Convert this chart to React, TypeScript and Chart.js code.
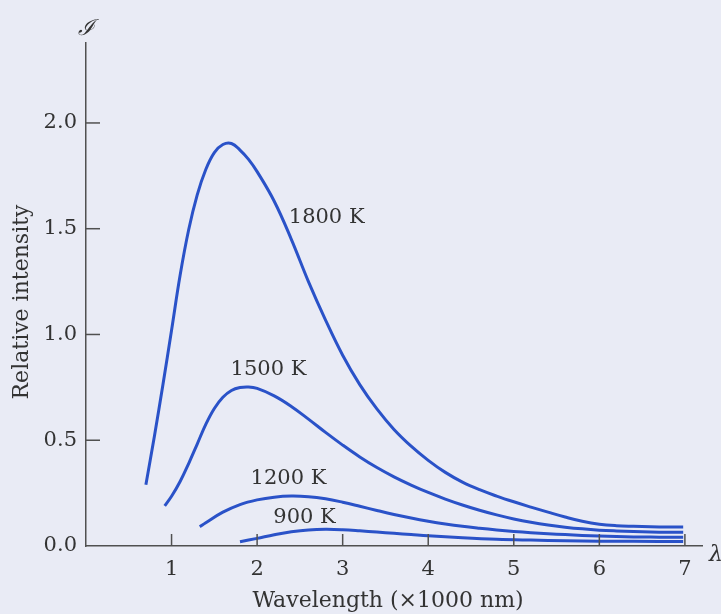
import React, { useEffect, useRef } from "react";
import { Chart, registerables } from "chart.js";

Chart.register(...registerables);

// Wavelength (×1000 nm) and relative intensity
const wl1800 = [0.70, 0.80, 0.90, 1.00, 1.10, 1.20, 1.30, 1.40, 1.50, 1.60, 1.70, 1.80, 1.90, 2.00, 2.20, 2.40, 2.60, 2.80, 3.00, 3.20, 3.40, 3.60, 3.80, 4.00, 4.20, 4.40, 4.60, 4.80, 5.00, 5.20, 5.40, 5.60, 5.80, 6.00, 6.20, 6.40, 6.60, 6.80, 6.98];
const int1800 = [0.29, 0.52, 0.765, 1.02, 1.28, 1.495, 1.66, 1.78, 1.86, 1.898, 1.903, 1.872, 1.828, 1.77, 1.63, 1.45, 1.25, 1.068, 0.902, 0.763, 0.648, 0.551, 0.472, 0.405, 0.348, 0.302, 0.266, 0.236, 0.209, 0.184, 0.16, 0.137, 0.117, 0.103, 0.096, 0.093, 0.091, 0.09, 0.09];

const wl1500 = [0.92, 1.00, 1.10, 1.20, 1.30, 1.40, 1.50, 1.60, 1.70, 1.80, 1.90, 2.00, 2.20, 2.40, 2.60, 2.80, 3.00, 3.20, 3.40, 3.60, 3.80, 4.00, 4.20, 4.40, 4.60, 4.80, 5.00, 5.20, 5.40, 5.60, 5.80, 6.00, 6.20, 6.40, 6.60, 6.80, 6.98];
const int1500 = [0.19, 0.235, 0.305, 0.39, 0.482, 0.575, 0.65, 0.703, 0.735, 0.749, 0.752, 0.745, 0.71, 0.66, 0.60, 0.537, 0.477, 0.421, 0.371, 0.327, 0.288, 0.253, 0.222, 0.194, 0.169, 0.147, 0.128, 0.112, 0.099, 0.089, 0.081, 0.075, 0.071, 0.068, 0.066, 0.065, 0.065];

const wl1200 = [1.33, 1.40, 1.60, 1.80, 2.00, 2.20, 2.40, 2.60, 2.80, 3.00, 3.20, 3.40, 3.60, 3.80, 4.00, 4.20, 4.40, 4.60, 4.80, 5.00, 5.20, 5.40, 5.60, 5.80, 6.00, 6.20, 6.40, 6.60, 6.80, 6.98];
const int1200 = [0.091, 0.11, 0.16, 0.196, 0.218, 0.231, 0.236, 0.233, 0.223, 0.207, 0.188, 0.168, 0.149, 0.132, 0.117, 0.104, 0.093, 0.084, 0.076, 0.069, 0.063, 0.058, 0.054, 0.05, 0.047, 0.045, 0.043, 0.042, 0.041, 0.041];

const wl900 = [1.80, 2.00, 2.20, 2.40, 2.60, 2.80, 3.00, 3.20, 3.40, 3.60, 3.80, 4.00, 4.40, 4.80, 5.20, 5.60, 6.00, 6.40, 6.98];
const int900 = [0.02, 0.036, 0.053, 0.067, 0.076, 0.079, 0.077, 0.072, 0.066, 0.06, 0.054, 0.048, 0.039, 0.032, 0.028, 0.025, 0.023, 0.022, 0.021];

const seriesLabels = ["1800 K", "1500 K", "1200 K", "900 K"];
// label anchors (left x in wavelength, baseline in intensity)
const labelAnchorX = [2.37, 1.69, 1.924, 2.19];
const labelAnchorY = [1.527, 0.809, 0.293, 0.109];

const xTickValues = [1, 2, 3, 4, 5, 6, 7];
const yTickValues = [0, 0.5, 1.0, 1.5, 2.0];

const xTitle = "Wavelength (×1000 nm)";
const yTitle = "Relative intensity";
const yMarker = "ℐ";
const xMarker = "λ";

const BLUE = "#2a52c8";
const INK = "#333333";
const AXIS = "#505050";
const BG = "#e9ebf5";
const FONT = "'DejaVu Serif', serif";

function pts(xs: number[], ys: number[]) {
  return xs.map((x, i) => ({ x, y: ys[i] }));
}

export default function App() {
  const ref = useRef<HTMLCanvasElement | null>(null);

  useEffect(() => {
    document.body.style.margin = "0";
    document.body.style.background = BG;
    const canvas = ref.current;
    if (!canvas) return;

    const decor = {
      id: "decor",
      beforeDraw(chart: any) {
        const ctx = chart.ctx;
        ctx.save();
        ctx.fillStyle = BG;
        ctx.fillRect(0, 0, chart.width, chart.height);
        ctx.restore();
      },
      afterDraw(chart: any) {
        const ctx = chart.ctx;
        const xs = chart.scales.x;
        const ys = chart.scales.y;
        const area = chart.chartArea;
        ctx.save();
        // inside tick marks
        ctx.strokeStyle = AXIS;
        ctx.lineWidth = 1.5;
        yTickValues.forEach((v) => {
          if (v === 0) return;
          const py = ys.getPixelForValue(v);
          ctx.beginPath();
          ctx.moveTo(area.left, py);
          ctx.lineTo(area.left + 14, py);
          ctx.stroke();
        });
        xTickValues.forEach((v) => {
          const px = xs.getPixelForValue(v);
          ctx.beginPath();
          ctx.moveTo(px, area.bottom);
          ctx.lineTo(px, area.bottom - 12);
          ctx.stroke();
        });
        // curve labels
        ctx.fillStyle = INK;
        ctx.font = `21px ${FONT}`;
        ctx.textAlign = "left";
        ctx.textBaseline = "alphabetic";
        seriesLabels.forEach((t, i) => {
          ctx.fillText(t, xs.getPixelForValue(labelAnchorX[i]), ys.getPixelForValue(labelAnchorY[i]));
        });
        // x title
        ctx.font = `22px ${FONT}`;
        ctx.textAlign = "center";
        ctx.fillText(xTitle, 388, 607);
        // y title
        ctx.save();
        ctx.translate(22, 302);
        ctx.rotate(-Math.PI / 2);
        ctx.textBaseline = "middle";
        ctx.fillText(yTitle, 0, 0);
        ctx.restore();
        // markers
        ctx.font = `italic 22px ${FONT}`;
        ctx.textAlign = "center";
        ctx.textBaseline = "alphabetic";
        ctx.fillText(yMarker, area.left, 35);
        ctx.textAlign = "left";
        ctx.fillText(xMarker, 709, 561);
        ctx.restore();
      },
    };

    const ds = (xs: number[], ys: number[], label: string) => ({
      label,
      data: pts(xs, ys),
      borderColor: BLUE,
      borderWidth: 3,
      pointRadius: 0,
      showLine: true,
      fill: false,
      tension: 0.4,
      borderCapStyle: "butt" as const,
      borderJoinStyle: "round" as const,
    });

    const chart = new Chart(canvas, {
      type: "scatter",
      data: {
        datasets: [
          ds(wl1800, int1800, seriesLabels[0]),
          ds(wl1500, int1500, seriesLabels[1]),
          ds(wl1200, int1200, seriesLabels[2]),
          ds(wl900, int900, seriesLabels[3]),
        ],
      },
      options: {
        animation: false,
        responsive: false,
        devicePixelRatio: 1,
        layout: { padding: { top: 43, right: 19, left: 0, bottom: 0 } },
        plugins: { legend: { display: false }, tooltip: { enabled: false } },
        scales: {
          x: {
            type: "linear",
            min: 0,
            max: 7.2,
            afterBuildTicks: (s: any) => {
              s.ticks = xTickValues.map((v) => ({ value: v }));
            },
            afterFit: (s: any) => {
              s.height = 68;
            },
            grid: { display: true, drawOnChartArea: false, drawTicks: false },
            border: { display: true, color: AXIS, width: 1.5 },
            ticks: {
              color: INK,
              font: { family: FONT, size: 21 },
              padding: 11,
              maxRotation: 0,
              callback: (v: any) => String(v),
            },
          },
          y: {
            type: "linear",
            min: 0,
            max: 2.378,
            afterBuildTicks: (s: any) => {
              s.ticks = yTickValues.map((v) => ({ value: v }));
            },
            afterFit: (s: any) => {
              s.width = 86;
            },
            grid: { display: true, drawOnChartArea: false, drawTicks: false },
            border: { display: true, color: AXIS, width: 1.5 },
            ticks: {
              color: INK,
              font: { family: FONT, size: 21 },
              padding: 9,
              callback: (v: any) => Number(v).toFixed(1),
            },
          },
        },
      },
      plugins: [decor],
    });

    return () => chart.destroy();
  }, []);

  return (
    <div style={{ width: 721, height: 614 }}>
      <canvas ref={ref} width={721} height={614} style={{ display: "block", width: 721, height: 614 }} />
    </div>
  );
}
